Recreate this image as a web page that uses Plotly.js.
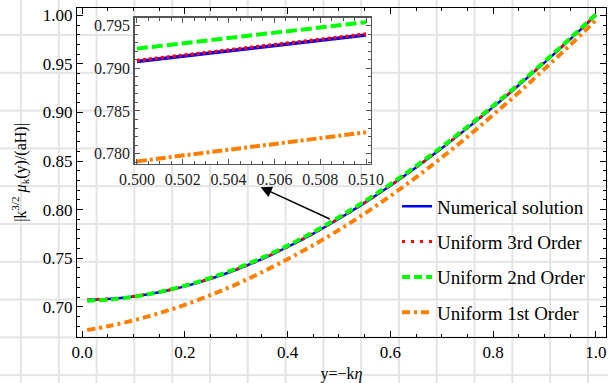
<!DOCTYPE html>
<html>
<head>
<meta charset="utf-8">
<script src="https://cdn.plot.ly/plotly-3.0.1.min.js"></script>
<style>
html,body{margin:0;padding:0;}
body{
  width:608px;height:383px;overflow:hidden;background-color:#ffffff;
  background-image:linear-gradient(to right,#e4e4e4 2px,transparent 2px),linear-gradient(to bottom,#e4e4e4 2px,transparent 2px);
  background-size:37.8px 37.8px;background-position:20px 34px;
}
#chart{width:608px;height:383px;}
</style>
</head>
<body>
<div id="chart"></div>
<script>
// ---- main panel data (x = y = -k*eta) ----
const yValues = [0.01,0.05,0.10,0.15,0.20,0.25,0.30,0.35,0.40,0.45,0.50,0.55,0.60,0.65,0.70,0.75,0.80,0.85,0.90,0.95,1.00];
const numerical = [0.7072,0.7080,0.7106,0.7150,0.7211,0.7289,0.7382,0.7491,0.7616,0.7754,0.7907,0.8070,0.8246,0.8433,0.8631,0.8839,0.9055,0.9280,0.9513,0.9753,1.0000];
const uniform3rd = [0.7073,0.7082,0.7108,0.7152,0.7213,0.7291,0.7384,0.7493,0.7618,0.7756,0.7909,0.8072,0.8248,0.8435,0.8633,0.8841,0.9057,0.9282,0.9515,0.9755,1.0002];
const uniform2nd = [0.7064,0.7074,0.7104,0.7152,0.7217,0.7298,0.7393,0.7504,0.7630,0.7769,0.7923,0.8086,0.8262,0.8448,0.8646,0.8853,0.9068,0.9292,0.9524,0.9763,1.0010];
const uniform1st = [0.6762,0.6800,0.6861,0.6935,0.7021,0.7121,0.7232,0.7356,0.7491,0.7634,0.7792,0.7960,0.8141,0.8333,0.8536,0.8749,0.8975,0.9205,0.9448,0.9693,0.9950];

// ---- inset data ----
const insetX = [0.500,0.505,0.510];
const insetNumerical = [0.7908,0.79235,0.7939];
const insetU3 = [0.7909,0.79245,0.7940];
const insetU2 = [0.7923,0.79385,0.7954];
const insetU1 = [0.7791,0.7808,0.7825];

const seriesNames = ['Numerical solution','Uniform 3rd Order','Uniform 2nd Order','Uniform 1st Order'];
const seriesColors = ['#0000ff','#ff0000','#00ff00','#ff8000'];

const FONT = 'Liberation Serif, Times New Roman, serif';

const mainSeries = [numerical, uniform3rd, uniform2nd, uniform1st];
const insetSeries = [insetNumerical, insetU3, insetU2, insetU1];
const mainDash = ['solid','3px,6px','8px,4px','8px,4px,3px,4px'];
const mainWidth = [2.5,3,4,4];
const insetDash = ['solid','3px,3px','11px,4px','10px,3px,3px,3px'];
const insetWidth = [3.5,3.5,4,4];

const traces = [];
mainSeries.forEach((s,i)=>{
  traces.push({x:yValues,y:s,type:'scatter',mode:'lines',name:seriesNames[i],
    legendgroup:'g'+i,
    line:{color:seriesColors[i],width:mainWidth[i],dash:mainDash[i],shape:'spline'},
    xaxis:'x',yaxis:'y'});
});
insetSeries.forEach((s,i)=>{
  traces.push({x:insetX,y:s,type:'scatter',mode:'lines',showlegend:false,
    line:{color:seriesColors[i],width:insetWidth[i],dash:insetDash[i]},
    xaxis:'x2',yaxis:'y2'});
});

const layout = {
  width:608,height:383,
  margin:{l:77,r:2,t:8,b:46},
  paper_bgcolor:'rgba(0,0,0,0)',plot_bgcolor:'rgba(0,0,0,0)',
  font:{family:FONT,color:'#000',size:17},
  showlegend:true,
  legend:{x:0.605,y:0.455,xanchor:'left',yanchor:'top',bgcolor:'rgba(0,0,0,0)',
    font:{family:FONT,size:19,color:'#000'},tracegroupgap:7.7,traceorder:'grouped'},
  xaxis:{range:[-0.0098,1.0198],domain:[0,1],showgrid:false,zeroline:false,
    showline:true,linecolor:'#000',linewidth:1,mirror:'allticks',
    ticks:'inside',ticklen:6,tickcolor:'#000',dtick:0.2,tick0:0,tickformat:'.1f',
    minor:{dtick:0.05,ticklen:3,ticks:'inside',tickcolor:'#000'},
    tickfont:{family:FONT,size:17},
    title:{text:'y=−k<i>η</i>',font:{family:FONT,size:16},standoff:6}},
  yaxis:{range:[0.669,1.0075],domain:[0,1],showgrid:false,zeroline:false,
    showline:true,linecolor:'#000',linewidth:1,mirror:'allticks',
    ticks:'inside',ticklen:6,tickcolor:'#000',dtick:0.05,tick0:0,tickformat:'.2f',
    minor:{dtick:0.01,ticklen:3,ticks:'inside',tickcolor:'#000'},
    tickfont:{family:FONT,size:17},
    title:{text:'|k<sup>3/2</sup> <i>μ</i><sub>k</sub>(y)/(aH)|',font:{family:FONT,size:16},standoff:12}},
  xaxis2:{range:[0.4999,0.5102],domain:[0.109,0.555],anchor:'y2',showgrid:false,zeroline:false,
    showline:true,linecolor:'#555',linewidth:1.5,mirror:'allticks',
    ticks:'inside',ticklen:5,tickcolor:'#555',dtick:0.002,tick0:0.5,tickformat:'.3f',
    minor:{dtick:0.0005,ticklen:3,ticks:'inside',tickcolor:'#555'},
    tickfont:{family:FONT,size:16,color:'#222'}},
  yaxis2:{range:[0.7788,0.7959],domain:[0.526,0.97],anchor:'x2',showgrid:false,zeroline:false,
    showline:true,linecolor:'#555',linewidth:1.5,mirror:'allticks',
    ticks:'inside',ticklen:5,tickcolor:'#555',dtick:0.005,tick0:0.78,tickformat:'.3f',
    minor:{dtick:0.001,ticklen:3,ticks:'inside',tickcolor:'#555'},
    tickfont:{family:FONT,size:16,color:'#222'}},
  shapes:[{type:'rect',xref:'x2 domain',yref:'y2 domain',x0:0,x1:1,y0:0,y1:1,
    fillcolor:'#ffffff',line:{width:0},layer:'below'}],
  annotations:[{x:0.3476,y:0.8231,xref:'x',yref:'y',ax:0.4851,ay:0.7897,axref:'x',ayref:'y',
    text:'',showarrow:true,arrowhead:2,arrowsize:1.6,arrowwidth:1.4,arrowcolor:'#000'}]
};

Plotly.newPlot('chart',traces,layout,{displayModeBar:false,staticPlot:true});
</script>
</body>
</html>
